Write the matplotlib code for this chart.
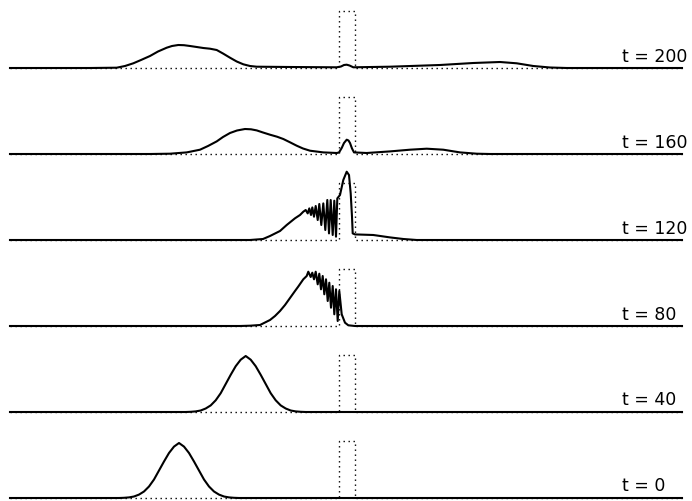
import numpy as np
import matplotlib
matplotlib.use('Agg')
import matplotlib.pyplot as plt

# snapshot times, bottom to top
times = [0, 40, 80, 120, 160, 200]

# domain edges and barrier (same units as the x readings)
x_left, x_right = 10, 682
barrier_x = [338.7, 355.0]
barrier_h = 57

# |psi|^2 (x position, height)
x_t0 = [119, 124, 129, 134, 139, 144, 149, 154, 159, 164, 169, 174, 179,
        184, 189, 194, 199, 204, 209, 214, 219, 224, 229, 234, 239]
h_t0 = [0, 0.2, 0.6, 1.5, 3.4, 6.5, 11.5, 18.5, 27.5, 36.5, 45, 51.4, 55,
        51.4, 45, 36.5, 27.5, 18.5, 11.5, 6.5, 3.4, 1.5, 0.6, 0.2, 0]

x_t40 = [185.7, 190.7, 195.7, 200.7, 205.7, 210.7, 215.7, 220.7, 225.7, 230.7,
         235.7, 240.7, 245.7, 250.7, 255.7, 260.7, 265.7, 270.7, 275.7, 280.7,
         285.7, 290.7, 295.7, 300.7, 305.7]
h_t40 = [0, 0.2, 0.6, 1.5, 3.5, 6.6, 11.7, 18.8, 28, 37.2, 45.8, 52.3, 56,
         52.3, 45.8, 37.2, 28, 18.8, 11.7, 6.6, 3.5, 1.5, 0.6, 0.2, 0]

x_t80 = [240, 250, 260, 270, 275, 280, 285, 290, 295, 298.3, 303.3, 306.7,
         308.3, 310.7, 312.3, 314, 315.7, 317.7, 319.3, 321, 322.7, 324.3,
         326, 327.7, 329.3, 331, 332.7, 334.3, 336, 337.7, 339.3, 341.7,
         345, 348.3, 355]
h_t80 = [0, 0.3, 1, 6, 10, 15, 21, 28, 35, 39.5, 46.7, 50,
         54.3, 49, 53.3, 46.7, 54.3, 41.7, 52.3, 36.7, 50, 31.7,
         46.7, 25, 43.3, 18.3, 40, 11.7, 36.7, 5, 35, 11.7,
         3.3, 0.7, 0]

x_t120 = [250, 263, 270, 280, 286.7, 295, 300, 303.3, 305.7, 307.7, 309.3,
          311, 312.3, 314, 315.7, 317.7, 319.3, 321.3, 323.3, 325.3, 327.3,
          329, 330.7, 332.7, 334.3, 336, 337.3, 340, 343.3, 346.7, 349,
          350.7, 352, 352.7, 355, 373.3, 390, 403.3, 416.7]
h_t120 = [0, 1, 4, 9, 15, 21.7, 25, 28.3, 30, 26.6, 31.6,
          25, 32.6, 23.3, 34, 20, 36, 15, 36.6, 10, 40,
          6.6, 40, 5, 39.3, 3.3, 41.6, 45, 60, 68.3, 65,
          46.6, 23.3, 6.6, 5.6, 5, 2.6, 1, 0]

x_t160 = [150, 170, 186.7, 200, 208, 216.7, 223, 230, 237, 245, 251, 256.7,
          263, 270, 277, 283.3, 290, 296.7, 303, 310, 323.3, 336.7, 339,
          341.7, 344, 346.7, 348.5, 350, 352, 354, 366.7, 390, 410, 426.7,
          443.3, 460, 476.7, 490]
h_t160 = [0, 0.3, 1.6, 4.3, 8, 12.6, 17, 21, 23.5, 25, 24.7, 23.6,
          21.5, 19.3, 17.3, 15, 11.7, 8.3, 5.5, 3.3, 1.6, 1, 1.5,
          6, 11, 14.3, 13.5, 11, 5.5, 1.6, 1, 2.6, 4.3, 5.3,
          4.3, 1.6, 0.3, 0]

x_t200 = [90, 116.7, 125, 133.3, 141, 150, 158, 166.7, 172, 178.3, 184, 190,
          196.7, 203.3, 210, 216.7, 223, 230, 236.7, 243.3, 250, 256.7, 290,
          336.7, 341, 344, 346.7, 349.5, 353.3, 390, 440, 473.3, 500, 516.7,
          533.3, 550, 566.7]
h_t200 = [0, 0.3, 2, 4.7, 8, 12, 16.5, 20.3, 22, 23, 22.8, 22,
          21, 20, 19.3, 18, 14.5, 10.3, 6.5, 3.7, 2, 1.3, 1,
          0.7, 1.5, 3, 3.3, 2.5, 0.7, 1.3, 3, 5, 6, 4.7,
          2, 0.5, 0]

xs = [x_t0, x_t40, x_t80, x_t120, x_t160, x_t200]
hs = [h_t0, h_t40, h_t80, h_t120, h_t160, h_t200]

spacing = 86

fig = plt.figure(figsize=(6.92, 5.02), dpi=100)
ax = fig.add_axes([0, 0, 1, 1])
ax.set_xlim(0, 692)
ax.set_ylim(-3, 499)
ax.axis('off')

for i, t in enumerate(times):
    off = i * spacing
    # potential, dotted
    vx = [x_left, barrier_x[0], barrier_x[0], barrier_x[1], barrier_x[1], x_right]
    vy = [0, 0, barrier_h, barrier_h, 0, 0]
    ax.plot(vx, np.array(vy) + off, color='k', lw=1, linestyle=(0, (1, 2.6)))
    # wavefunction, padded with its flat zero tails
    px = [x_left] + list(xs[i]) + [x_right]
    py = [0] + list(hs[i]) + [0]
    ax.plot(px, np.array(py) + off, color='k', lw=1.5)
    ax.text(622, off + 7.5, 't = %d' % t, ha='left', va='baseline', fontsize=12.5)

fig.savefig('out.png', dpi=100)
